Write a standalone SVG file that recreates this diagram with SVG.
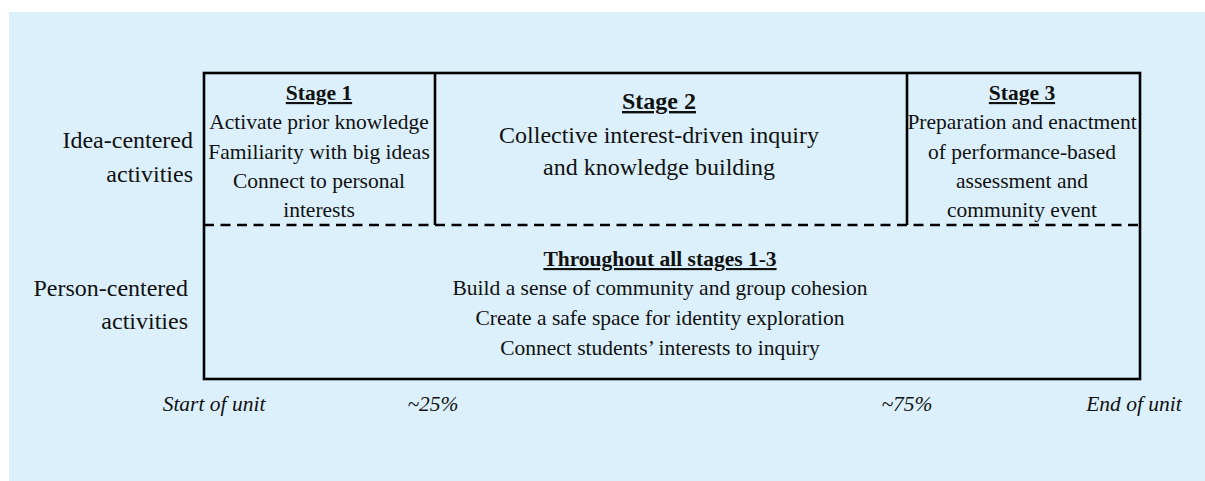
<svg xmlns="http://www.w3.org/2000/svg" width="1205" height="481" viewBox="0 0 1205 481">
  <style>
    text { font-family: "Liberation Serif", "Times New Roman", serif; fill: #111; }
    .lbl { font-size: 24px; text-anchor: end; }
    .body { font-size: 21.5px; text-anchor: middle; }
    .big { font-size: 24px; text-anchor: middle; }
    .head { font-weight: bold; text-decoration: underline; }
    .axis { font-size: 21.5px; font-style: italic; text-anchor: middle; }
    .frame { fill: none; stroke: #000; stroke-width: 2.6; }
    .dash { stroke: #000; stroke-width: 2.6; stroke-dasharray: 10 6.5; }
  </style>

  <!-- backdrop panel -->
  <rect x="9" y="12" width="1196" height="469" fill="#DBF0FB"/>

  <!-- frame: outer box, stage dividers, dashed split between rows -->
  <g id="connectors">
    <rect class="frame" x="204" y="73" width="936" height="306"/>
    <line class="frame" x1="435" y1="73" x2="435" y2="225"/>
    <line class="frame" x1="907" y1="73" x2="907" y2="225"/>
    <line class="dash" x1="204" y1="225" x2="1140" y2="225"/>
  </g>

  <!-- row labels -->
  <g id="idea-centered">
    <text class="lbl" x="193" y="148">Idea-centered</text>
    <text class="lbl" x="193" y="182">activities</text>
  </g>
  <g id="person-centered">
    <text class="lbl" x="188" y="296">Person-centered</text>
    <text class="lbl" x="188" y="329">activities</text>
  </g>

  <!-- stage cells -->
  <g id="stage1">
    <text class="body head" x="319" y="100">Stage 1</text>
    <text class="body" x="319" y="129.3">Activate prior knowledge</text>
    <text class="body" x="319" y="158.6">Familiarity with big ideas</text>
    <text class="body" x="319" y="187.9">Connect to personal</text>
    <text class="body" x="319" y="217.2">interests</text>
  </g>
  <g id="stage2">
    <text class="big head" x="659" y="109">Stage 2</text>
    <text class="big" x="659" y="143">Collective interest-driven inquiry</text>
    <text class="big" x="659" y="175">and knowledge building</text>
  </g>
  <g id="stage3">
    <text class="body head" x="1022" y="100">Stage 3</text>
    <text class="body" x="1022" y="129.3">Preparation and enactment</text>
    <text class="body" x="1022" y="158.6">of performance-based</text>
    <text class="body" x="1022" y="187.9">assessment and</text>
    <text class="body" x="1022" y="217.2">community event</text>
  </g>

  <!-- cross-stage cell -->
  <g id="throughout">
    <text class="body head" x="660" y="266">Throughout all stages 1-3</text>
    <text class="body" x="660" y="295">Build a sense of community and group cohesion</text>
    <text class="body" x="660" y="325">Create a safe space for identity exploration</text>
    <text class="body" x="660" y="355">Connect students’ interests to inquiry</text>
  </g>

  <!-- timeline marks -->
  <g id="timeline">
    <text class="axis" x="214" y="411">Start of unit</text>
    <text class="axis" x="433" y="411">~25%</text>
    <text class="axis" x="907" y="411">~75%</text>
    <text class="axis" x="1134" y="411">End of unit</text>
  </g>
</svg>
